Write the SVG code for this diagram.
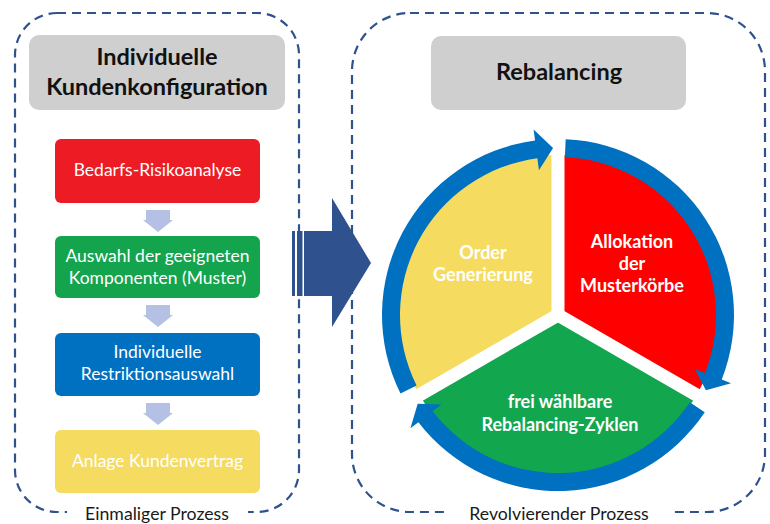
<svg xmlns="http://www.w3.org/2000/svg" width="770" height="524" viewBox="0 0 770 524">
<style>
.frame{fill:none;stroke:#2F528F;stroke-width:2.2;stroke-dasharray:9 6}
.hdr{fill:#CFCFCF}
.hdrt{font-family:Lato,"Liberation Sans",sans-serif;font-weight:bold;font-size:23.5px;fill:#111;text-anchor:middle}
.bt{font-family:Lato,"Liberation Sans",sans-serif;font-size:17.5px;fill:#fff;text-anchor:middle}
.st{font-family:Lato,"Liberation Sans",sans-serif;font-weight:bold;font-size:18px;fill:#fff;text-anchor:middle}
.lbl{font-family:Lato,"Liberation Sans",sans-serif;font-size:17.7px;fill:#1a1a1a;text-anchor:middle}
.darr{fill:#B4C1E4}
.ring{fill:#0070C0}
.gap{stroke:#fff;stroke-width:13;fill:none}
</style>
<rect width="770" height="524" fill="#fff"/>
<g id="frame-left">
<rect class="frame" x="15" y="13" width="284" height="499" rx="42"/>
<rect x="67" y="503" width="181" height="21" fill="#fff"/>
<text class="lbl" x="157" y="520">Einmaliger Prozess</text>
</g>
<g id="frame-right">
<rect class="frame" x="352" y="13" width="413" height="499" rx="58"/>
<rect x="450" y="503" width="222" height="21" fill="#fff"/>
<text class="lbl" x="559" y="520">Revolvierender Prozess</text>
</g>
<g id="header-left">
<rect class="hdr" x="29" y="35" width="256" height="75" rx="10"/>
<text class="hdrt" x="157" y="65">Individuelle</text>
<text class="hdrt" x="157" y="95">Kundenkonfiguration</text>
</g>
<g id="header-right">
<rect class="hdr" x="431" y="36" width="255" height="74" rx="10"/>
<text class="hdrt" x="559" y="80">Rebalancing</text>
</g>
<g id="box-bedarf">
<rect x="55" y="139" width="205" height="64" rx="6" fill="#ED1C24"/>
<text class="bt" x="157.5" y="175.5">Bedarfs-Risikoanalyse</text>
</g>
<g id="box-auswahl">
<rect x="55" y="236" width="205" height="62" rx="6" fill="#14A44E"/>
<text class="bt" x="157.5" y="262">Auswahl der geeigneten</text>
<text class="bt" x="157.5" y="284">Komponenten (Muster)</text>
</g>
<g id="box-restriktion">
<rect x="55" y="333" width="205" height="63" rx="6" fill="#0070C0"/>
<text class="bt" x="157.5" y="358">Individuelle</text>
<text class="bt" x="157.5" y="380">Restriktionsauswahl</text>
</g>
<g id="box-vertrag">
<rect x="55" y="430" width="205" height="63" rx="6" fill="#F5DC61"/>
<text class="bt" x="157.5" y="467">Anlage Kundenvertrag</text>
</g>
<g id="connectors">
<path class="darr" d="M146 210 H170 V220 H173 L158 232 L143 220 H146 Z"/>
<path class="darr" d="M146 305 H170 V315 H173 L158 327 L143 315 H146 Z"/>
<path class="darr" d="M146 403 H170 V413 H173 L158 425 L143 413 H146 Z"/>
<g id="big-arrow" fill="#2F528F">
<rect x="292" y="231" width="3" height="65"/>
<rect x="297" y="231" width="5.5" height="65"/>
<path d="M304 231 H332 V198 L371 263 L332 327 V296 H304 Z"/>
</g>
</g>
<g id="cycle">
<path id="sector-allokation" d="M558 315 L558 155 A160 160 0 0 1 696.56 395 Z" fill="#FF0000"/>
<path id="sector-zyklen" d="M558 315 L696.56 395 A160 160 0 0 1 419.44 395 Z" fill="#12A64E"/>
<path id="sector-order" d="M558 315 L419.44 395 A160 160 0 0 1 558 155 Z" fill="#F5DC61"/>
<path class="gap" d="M558 315 V150 M558 315 L700.9 397.5 M558 315 L415.1 397.5"/>
<path class="ring" d="M565.68 139.17 A176 176 0 0 1 721.75 379.5 L731.06 383.17 L705.91 390.36 L694.77 368.88 L705.01 372.91 A158 158 0 0 0 564.89 157.15 Z"/>
<path class="ring" d="M704.76 412.14 A176 176 0 0 1 418.37 422.14 L410.44 428.23 L417.69 403.7 L441.38 404.49 L432.65 411.18 A158 158 0 0 0 689.75 402.21 Z"/>
<path class="ring" d="M400.49 393.53 A176 176 0 0 1 535.03 140.51 L533.59 129.6 L553.05 148.07 L538.94 170.25 L537.38 158.35 A158 158 0 0 0 416.6 385.5 Z"/>
<text class="st" x="483" y="259">Order</text>
<text class="st" x="483" y="281">Generierung</text>
<text class="st" x="632" y="248">Allokation</text>
<text class="st" x="632" y="270">der</text>
<text class="st" x="632" y="292">Musterkörbe</text>
<text class="st" x="560" y="408">frei wählbare</text>
<text class="st" x="560" y="431">Rebalancing-Zyklen</text>
</g>
</svg>
